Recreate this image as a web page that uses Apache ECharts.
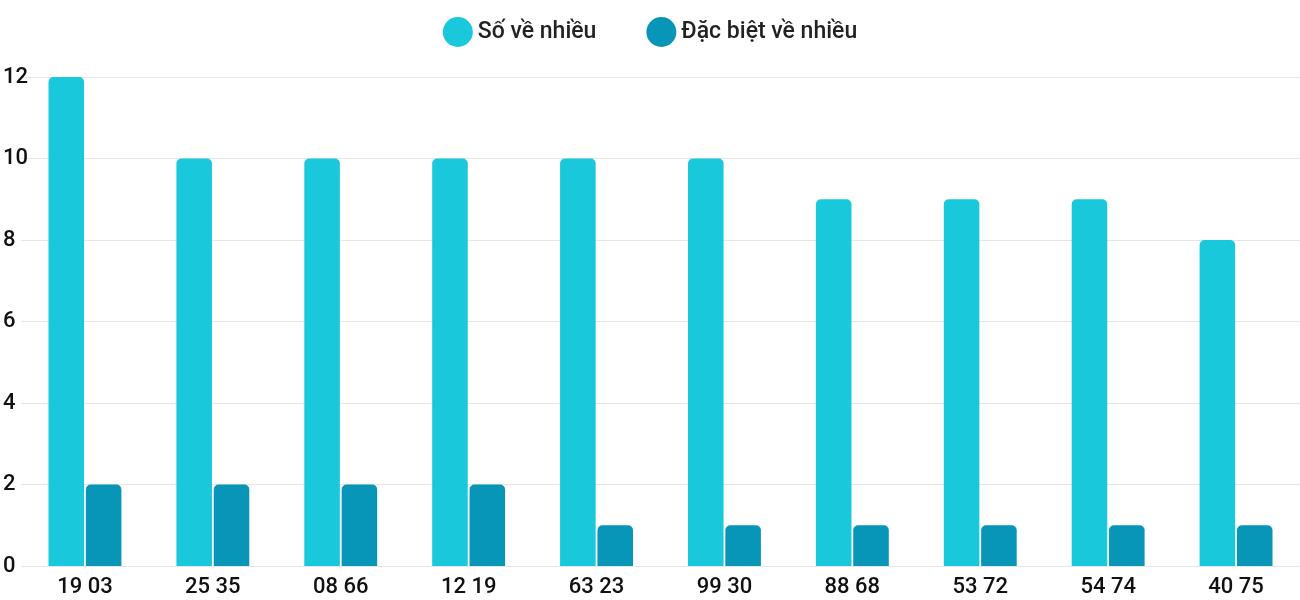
<!DOCTYPE html>
<html><head><meta charset="utf-8">
<script src="https://cdn.jsdelivr.net/npm/echarts@6/dist/echarts.min.js"></script>
<style>html,body{margin:0;padding:0;background:#fff}#chart{width:1300px;height:600px}</style>
</head><body><div id="chart"></div>
<script>
var categories = ['19 03','25 35','08 66','12 19','63 23','99 30','88 68','53 72','54 74','40 75'];
var soVeNhieu = [12,10,10,10,10,10,9,9,9,8];
var dacBiet = [2,2,2,2,1,1,1,1,1,1];

var chart = echarts.init(document.getElementById('chart'));
chart.setOption({
	textStyle: {fontFamily: 'Roboto'},
	legend: {
		top: 12, left: 'center', icon: 'circle', itemWidth: 30, itemHeight: 30, itemGap: 50,
		textStyle: {fontSize: 23, fontWeight: 500, color: '#222', fontFamily: 'Roboto'},
		data: ['Số về nhiều', 'Đặc biệt về nhiều']
	},
	grid: {left: 20, width: 1310, top: 77, bottom: 34},
	xAxis: {
		type: 'category', data: categories,
		axisLine: {show: false}, axisTick: {show: false},
		axisLabel: {fontSize: 22, fontWeight: 500, color: '#111', margin: 10}
	},
	yAxis: {
		type: 'value', min: 0, max: 12, interval: 2,
		axisLabel: {fontSize: 22, fontWeight: 500, color: '#111', align: 'left', margin: 18},
		splitLine: {lineStyle: {color: '#e6e6e6'}}
	},
	series: [
		{name: 'Số về nhiều', type: 'bar', data: soVeNhieu, barGap: '5%', barCategoryGap: '43%',
		 itemStyle: {color: '#1ac8db', borderRadius: [5,5,0,0]}},
		{name: 'Đặc biệt về nhiều', type: 'bar', data: dacBiet,
		 itemStyle: {color: '#0795b8', borderRadius: [5,5,0,0]}}
	]
});
</script></body></html>
